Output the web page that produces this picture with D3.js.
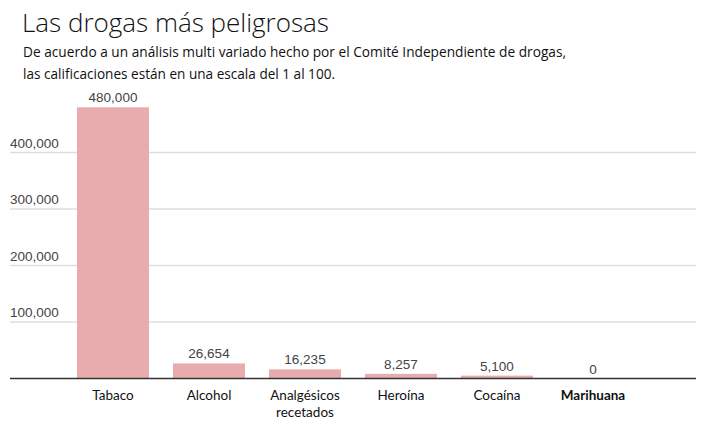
<!DOCTYPE html>
<html>
<head>
<meta charset="utf-8">
<script src="https://cdn.jsdelivr.net/npm/d3@7"></script>
<style>
  html, body { margin: 0; padding: 0; background: #fff; }
  svg { display: block; }
</style>
</head>
<body>
<script>
const categories = ["Tabaco", "Alcohol", "Analgésicos recetados", "Heroína", "Cocaína", "Marihuana"];
const values = [480000, 26654, 16235, 8257, 5100, 0];
const yTicks = [100000, 200000, 300000, 400000];
const title = "Las drogas más peligrosas";
const subtitle = ["De acuerdo a un análisis multi variado hecho por el Comité Independiente de drogas,",
                  "las calificaciones están en una escala del 1 al 100."];

const W = 728, H = 444;
const svg = d3.select("body").append("svg").attr("width", W).attr("height", H);

const baseY = 378.5;
const y = d3.scaleLinear().domain([0, 100000]).range([baseY, baseY - 56.5]);
const x = d3.scaleBand().domain(categories).range([77, 77 + 96 * 5.75]).paddingInner(0.25).paddingOuter(0);

const titleFont = "'Open Sans', 'Noto Sans', sans-serif";

svg.append("text").attr("x", 22).attr("y", 32)
  .attr("font-family", titleFont).attr("font-size", 26).attr("font-weight", 300)
  .attr("fill", "#111").text(title);
subtitle.forEach((s, i) => {
  svg.append("text").attr("x", 23).attr("y", 57 + i * 22)
    .attr("font-family", titleFont).attr("font-size", 14)
    .attr("fill", "#111").attr("textLength", i === 0 ? 543 : 312).attr("lengthAdjust", "spacingAndGlyphs")
    .text(s);
});

// gridlines
const grid = svg.append("g");
yTicks.forEach(t => {
  grid.append("line").attr("x1", 10).attr("x2", 696)
    .attr("y1", y(t)).attr("y2", y(t))
    .attr("stroke", "#dedede").attr("stroke-width", 1.5);
  grid.append("text").attr("x", 10).attr("y", y(t) - 5)
    .attr("font-family", "'Liberation Sans', Arial, sans-serif").attr("font-size", 13.5)
    .attr("fill", "#444").text(d3.format(",")(t));
});

// bars
svg.append("g").selectAll("rect").data(values).join("rect")
  .attr("x", (d, i) => x(categories[i]))
  .attr("width", x.bandwidth())
  .attr("y", d => y(d))
  .attr("height", d => baseY - y(d))
  .attr("fill", "#e9acae");

// value labels
svg.append("g").selectAll("text").data(values).join("text")
  .attr("x", (d, i) => x(categories[i]) + x.bandwidth() / 2)
  .attr("y", d => y(d) - 5)
  .attr("text-anchor", "middle")
  .attr("font-family", "'Liberation Sans', Arial, sans-serif").attr("font-size", 13.5)
  .attr("fill", "#444")
  .text(d => d3.format(",")(d));

// baseline axis
svg.append("line").attr("x1", 10).attr("x2", 696).attr("y1", baseY).attr("y2", baseY)
  .attr("stroke", "#333").attr("stroke-width", 1.5);

// category labels
const catG = svg.append("g");
categories.forEach((c, i) => {
  const cx = x(c) + x.bandwidth() / 2;
  const words = c === "Analgésicos recetados" ? ["Analgésicos", "recetados"] : [c];
  words.forEach((w, j) => {
    catG.append("text").attr("x", cx).attr("y", 400 + j * 16.5)
      .attr("text-anchor", "middle")
      .attr("font-family", "Lato, 'Open Sans', sans-serif").attr("font-size", 13.5)
      .attr("font-weight", c === "Marihuana" ? 700 : 400)
      .attr("fill", "#111").text(w);
  });
});
</script>
</body>
</html>
